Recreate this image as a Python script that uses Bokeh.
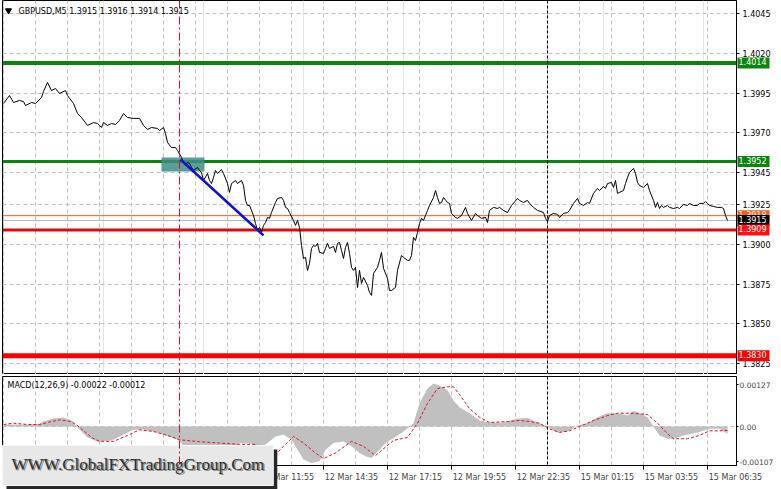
from bokeh.plotting import figure
from bokeh.layouts import column
from bokeh.models import FixedTicker, Span, Label, Grid, Range1d
from bokeh.embed import file_html
from bokeh.resources import INLINE

# ---------------- data ----------------
price_bar = [0, 3, 5, 8, 10, 11, 14, 16, 19, 20, 22, 24, 26, 28, 31, 32, 35, 37, 39, 42, 45, 47, 49, 50, 52, 54, 56, 58,
             60, 62, 65, 68, 70, 72, 74, 77, 78, 80, 81, 82, 84, 86, 87, 89, 90, 91, 92, 93, 94, 95, 97, 98, 99, 100,
             102, 103, 104, 105, 106, 107, 109, 110, 112, 113, 114, 116, 117, 119, 120, 121, 122, 123,
             125, 126, 127, 128, 129, 130, 131, 132, 133, 134, 136, 137, 139, 140, 141, 142, 143, 145, 146, 147, 148,
             149, 150, 151, 152, 153, 154, 155, 156, 157, 158, 160, 161, 162, 163, 165, 166, 167, 168, 169, 170, 171,
             172, 173, 174, 175, 176, 177, 178, 179, 180, 182, 183, 184, 185, 187, 188, 189, 190, 192, 193, 194, 196,
             197, 199, 200, 202, 203, 204, 205, 206, 207, 208, 209, 210, 212, 213, 215, 216, 217, 218,
             219, 220, 222, 223, 224, 226, 227, 229, 231, 232, 234, 236, 237, 239, 241, 242, 243, 245, 247, 248, 250,
             252, 254, 257, 258, 260, 262, 263, 265, 267, 270, 271, 272, 273, 275, 277, 278, 280, 282, 283, 285, 287,
             288, 290, 292, 293, 295, 297, 298, 300, 301, 302, 304, 305, 306, 307, 308, 310, 311, 312, 313, 315, 316,
             317, 318, 320, 322, 323, 325, 326, 327, 328, 329, 330, 332, 333, 335, 337, 338, 340, 342, 343, 345, 347,
             348, 350, 351, 352, 353, 355, 357, 359, 360, 361, 362]
price_close = [1.39885, 1.39935, 1.39891, 1.39904, 1.39897, 1.39872, 1.39891, 1.39885, 1.39922, 1.39960, 1.40017,
               1.39966, 1.39979, 1.39948, 1.39966, 1.39935, 1.39885, 1.39822, 1.39797, 1.39747, 1.39765, 1.39759,
               1.39734, 1.39765, 1.39747, 1.39759, 1.39753, 1.39778, 1.39822, 1.39797, 1.39791, 1.39791, 1.39747,
               1.39722, 1.39734, 1.39728, 1.39715, 1.39734, 1.39696, 1.39640, 1.39608, 1.39608, 1.39590, 1.39546,
               1.39514, 1.39495, 1.39514, 1.39508, 1.39483, 1.39464, 1.39483, 1.39464, 1.39451, 1.39401, 1.39445,
               1.39401, 1.39382, 1.39420, 1.39464, 1.39445, 1.39470, 1.39445, 1.39382, 1.39326, 1.39382, 1.39401,
               1.39382, 1.39401, 1.39370, 1.39276, 1.39244, 1.39244,
               1.39181, 1.39131, 1.39087, 1.39106, 1.39075, 1.39119, 1.39137, 1.39169, 1.39163, 1.39200, 1.39263,
               1.39288, 1.39294, 1.39276, 1.39232, 1.39225, 1.39200, 1.39150, 1.39119, 1.39150, 1.39106, 1.38993,
               1.38911, 1.38918, 1.38836, 1.38880, 1.38974, 1.38993, 1.38987, 1.39006, 1.38949, 1.38943, 1.38974,
               1.39006, 1.38974, 1.38987, 1.38949, 1.39006, 1.39012, 1.38962, 1.38911, 1.38981, 1.39012, 1.38943,
               1.38855, 1.38836, 1.38855, 1.38729, 1.38836, 1.38754, 1.38792, 1.38742, 1.38698, 1.38679, 1.38817,
               1.38855, 1.38899, 1.38949, 1.38849, 1.38786, 1.38710, 1.38710, 1.38729, 1.38836, 1.38930, 1.38918,
               1.38899, 1.38899, 1.38930, 1.39043, 1.39024, 1.39075, 1.39131, 1.39163, 1.39150, 1.39213, 1.39244,
               1.39294, 1.39338, 1.39294, 1.39257,
               1.39263, 1.39294, 1.39263, 1.39257, 1.39194, 1.39169, 1.39163, 1.39181, 1.39232, 1.39194, 1.39150,
               1.39194, 1.39181, 1.39163, 1.39169, 1.39137, 1.39213, 1.39232, 1.39225, 1.39232, 1.39213, 1.39200,
               1.39244, 1.39288, 1.39276, 1.39263, 1.39276, 1.39257, 1.39232, 1.39213, 1.39200, 1.39163, 1.39144,
               1.39181, 1.39194, 1.39188, 1.39169, 1.39194, 1.39200, 1.39213, 1.39257, 1.39288, 1.39257, 1.39244,
               1.39263, 1.39257, 1.39320, 1.39351, 1.39338, 1.39364, 1.39351, 1.39382, 1.39389, 1.39357, 1.39401,
               1.39320, 1.39326, 1.39338, 1.39382, 1.39420, 1.39451, 1.39477, 1.39445, 1.39389, 1.39370, 1.39357,
               1.39382, 1.39338, 1.39276, 1.39232, 1.39263, 1.39225, 1.39244, 1.39232, 1.39244, 1.39232, 1.39225,
               1.39232, 1.39225, 1.39250, 1.39244, 1.39257, 1.39244, 1.39244, 1.39257, 1.39257, 1.39269, 1.39257,
               1.39244, 1.39238, 1.39232, 1.39232, 1.39225, 1.39181, 1.39150]

macd_bar = [0, 5, 12, 18, 20, 25, 30, 34, 37, 42, 47, 54, 60, 65, 70, 77, 84, 88, 90, 94, 98, 106, 114, 118, 124,
            128, 132, 136, 140, 144, 147, 150, 154, 158, 161, 165, 170, 174, 178, 181, 184, 188, 191, 195, 199,
            202, 205, 208, 212, 215, 218, 222, 225, 228, 233, 238, 243, 250, 257, 262, 267, 272, 277, 282, 287,
            292, 297, 302, 307, 312, 315, 318, 322, 325, 328, 332, 335, 340, 347, 353, 358, 362]
macd_hist = [0.00005, 0.00006, 0.00005, 0.00008, 0.00016, 0.00024, 0.00027, 0.00018, -0.00003, -0.00033, -0.00045,
             -0.00042, -0.00024, -0.00010, -0.00009, -0.00018, -0.00033, -0.00042, -0.00060, -0.00080, -0.00090,
             -0.00090, -0.00072, -0.00050, -0.00052, -0.00068, -0.00050, -0.00030, -0.00024, -0.00040, -0.00070,
             -0.00100, -0.00110, -0.00105, -0.00070, -0.00050, -0.00045, -0.00060, -0.00080, -0.00090, -0.00095,
             -0.00070, -0.00050, -0.00035, -0.00020, -0.00005, 0.00010, 0.00070, 0.00115, 0.00130, 0.00124,
             0.00110, 0.00079, 0.00058, 0.00040, 0.00018, 0.00012, 0.00012, 0.00024, 0.00026, 0.00012, 0.00000,
             -0.00018, -0.00015, 0.00003, 0.00010, 0.00028, 0.00040, 0.00040, 0.00033, 0.00048, 0.00040, 0.00028,
             0.00000, -0.00027, -0.00037, -0.00037, -0.00027, -0.00018, -0.00007, -0.00007, -0.00022]

signal_bar = [0, 5, 12, 18, 24, 28, 34, 38, 44, 48, 55, 62, 68, 75, 82, 88, 98, 108, 118, 126, 132, 136, 140, 145,
              150, 156, 160, 166, 174, 180, 186, 195, 202, 207, 212, 217, 222, 225, 229, 233, 238, 243, 252, 258,
              263, 268, 273, 278, 283, 288, 295, 302, 307, 315, 322, 327, 332, 335, 342, 348, 353, 358, 362]
signal_val = [0.00006, 0.00010, 0.00006, 0.00006, 0.00015, 0.00020, 0.00015, -0.00002, -0.00033, -0.00045, -0.00045,
              -0.00027, -0.00010, -0.00015, -0.00027, -0.00040, -0.00046, -0.00050, -0.00054, -0.00054, -0.00070,
              -0.00085, -0.00060, -0.00030, -0.00050, -0.00080, -0.00097, -0.00080, -0.00045, -0.00060, -0.00088,
              -0.00042, -0.00033, 0.00010, 0.00070, 0.00115, 0.00120, 0.00120, 0.00088, 0.00054, 0.00028, 0.00012,
              0.00015, 0.00018, 0.00015, 0.00010, -0.00007, -0.00018, -0.00013, 0.00000, 0.00018, 0.00033, 0.00040,
              0.00040, 0.00036, 0.00010, -0.00022, -0.00037, -0.00037, -0.00027, -0.00013, -0.00013, -0.00012]

price_ticks = [1.4045, 1.4020, 1.3995, 1.3970, 1.3945, 1.3925, 1.3900, 1.3875, 1.3850, 1.3825]
macd_ticks = [0.00127, 0.0, -0.00107]
macd_tick_labels = ["0.00127", "0.00", "-0.00107"]
time_tick_bars = [0, 32, 64, 96, 128, 160, 192, 224, 256, 288, 320, 352]
time_tick_labels = ["12 Mar 01:15", "12 Mar 03:55", "12 Mar 06:35", "12 Mar 09:15", "12 Mar 11:55", "12 Mar 14:35",
                    "12 Mar 17:15", "12 Mar 19:55", "12 Mar 22:35", "15 Mar 01:15", "15 Mar 03:55", "15 Mar 06:35"]
grid_bars = list(range(0, 369, 16))

level_prices = [1.4014, 1.3952, 1.3918, 1.3915, 1.3909, 1.3830]
level_labels = ["1.4014", "1.3952", "1.3918", "1.3915", "1.3909", "1.3830"]
zone_bars = [79, 100.5]
zone_prices = [1.39458, 1.39546]
trend_bars = [88.5, 130]
trend_prices = [1.39533, 1.39056]
marker_bars = [88, 272]

symbol_header = "GBPUSD,M5  1.3915 1.3916 1.3914 1.3915"
macd_header = "MACD(12,26,9) -0.00022 -0.00012"
watermark_text = "WWW.GlobalFXTradingGroup.Com"

# ---------------- styles ----------------
level_styles = [
    dict(line="#0b850b", width=4, box="#0b850b", text="white"),
    dict(line="#0b850b", width=3, box="#0b850b", text="white"),
    dict(line="#ff5a14", width=1, box="#ff5a14", text="white"),
    dict(line="#b4b4c8", width=1, box="#000000", text="white"),
    dict(line="#e00a0a", width=3, box="#ff1010", text="white"),
    dict(line="#ff0000", width=5, box="#ff0000", text="white"),
]
GRID = "#c0c0c0"
FONT = "DejaVu Sans"
RED_MARK = "#cc1133"

xr = Range1d(-0.5, 366.5)

# ---------------- main price panel ----------------
p = figure(frame_width=734, frame_height=374, x_range=xr, y_range=(1.38182, 1.40532),
           x_axis_location=None, y_axis_location="right",
           output_backend="svg", toolbar_location=None,
           min_border_left=2, min_border_right=37, min_border_top=0, min_border_bottom=0,
           background_fill_color="white", border_fill_color="white",
           outline_line_color="black", outline_line_width=1)

p.yaxis.ticker = FixedTicker(ticks=price_ticks)
p.yaxis.major_label_overrides = {t: f"{t:.4f}" for t in price_ticks}
p.yaxis.major_label_text_font = FONT
p.yaxis.major_label_text_font_size = "8px"
p.yaxis.major_label_text_color = "black"
p.yaxis.major_tick_out = 3
p.yaxis.major_tick_in = 0
p.yaxis.minor_tick_out = 0
p.yaxis.major_label_standoff = 3
p.yaxis.axis_line_color = "black"
p.ygrid.ticker = FixedTicker(ticks=price_ticks)
p.ygrid.grid_line_color = GRID
p.ygrid.grid_line_dash = "4 3"
p.add_layout(Grid(dimension=0, ticker=FixedTicker(ticks=grid_bars), grid_line_color=GRID, grid_line_dash="4 3"))

for lv, st in zip(level_prices, level_styles):
    p.add_layout(Span(location=lv, dimension="width", line_color=st["line"], line_width=st["width"],
                      level="underlay"))

p.quad(left=[zone_bars[0]], right=[zone_bars[1]], bottom=[zone_prices[0]], top=[zone_prices[1]],
       fill_color="#3f8c86", fill_alpha=0.85, line_color=None)
p.line(price_bar, price_close, line_color="black", line_width=1)
p.line(trend_bars, trend_prices, line_color="#1010d0", line_width=2.5)

p.add_layout(Span(location=marker_bars[0], dimension="height", line_color=RED_MARK, line_width=1,
                  line_dash="8 3 2 3"))
p.add_layout(Span(location=marker_bars[1], dimension="height", line_color="black", line_width=1,
                  line_dash="3 2"))

p.scatter([2.5], [1.40469], marker="inverted_triangle", size=6, fill_color="black", line_color="black")
p.add_layout(Label(x=7.5, y=1.40463, text=symbol_header, text_font=FONT, text_font_size="8px",
                   text_color="black", text_baseline="middle", text_align="left"))

# level price tags on the price scale (side panel, so they are not clipped to the frame)
for lv, lab, st in zip(level_prices, level_labels, level_styles):
    p.add_layout(Label(x=367.0, y=lv, text=lab, text_font=FONT, text_font_size="8px",
                       text_color=st["text"], text_baseline="middle", text_align="left",
                       background_fill_color=st["box"], padding=(1, 3, 1, 3)), "right")

# ---------------- MACD panel ----------------
m = figure(frame_width=734, frame_height=89, x_range=xr, y_range=(-0.001179, 0.001512),
           x_axis_location="below", y_axis_location="right",
           output_backend="svg", toolbar_location=None,
           min_border_left=2, min_border_right=37, min_border_top=2, min_border_bottom=0,
           background_fill_color="white", border_fill_color="white",
           outline_line_color="black", outline_line_width=1)

m.yaxis.ticker = FixedTicker(ticks=macd_ticks)
m.yaxis.major_label_overrides = dict(zip(macd_ticks, macd_tick_labels))
m.yaxis.major_label_text_font = FONT
m.yaxis.major_label_text_font_size = "7.5px"
m.yaxis.major_tick_out = 2
m.yaxis.major_tick_in = 0
m.yaxis.minor_tick_out = 0
m.yaxis.major_label_standoff = 1
m.ygrid.visible = False

label_centers = [b + 14 for b in time_tick_bars]
m.xaxis.ticker = FixedTicker(ticks=label_centers, minor_ticks=time_tick_bars)
m.xaxis.major_label_overrides = dict(zip(label_centers, time_tick_labels))
m.xaxis.major_label_text_font = FONT
m.xaxis.major_label_text_font_size = "8px"
m.xaxis.major_tick_out = 0
m.xaxis.major_tick_in = 0
m.xaxis.minor_tick_out = 4
m.xaxis.minor_tick_in = 0
m.xaxis.major_label_standoff = 3
m.xgrid.visible = False
m.add_layout(Grid(dimension=0, ticker=FixedTicker(ticks=grid_bars), grid_line_color=GRID, grid_line_dash="4 3"))
m.add_layout(Span(location=0, dimension="width", line_color=GRID, line_width=1, line_dash="4 3", level="underlay"))

m.varea(x=macd_bar, y1=[0] * len(macd_bar), y2=macd_hist, fill_color="#c0c0c0")
m.line(signal_bar, signal_val, line_color="#e0102a", line_width=1, line_dash="3 2")

m.add_layout(Span(location=marker_bars[0], dimension="height", line_color=RED_MARK, line_width=1,
                  line_dash="8 3 2 3"))
m.add_layout(Span(location=marker_bars[1], dimension="height", line_color="black", line_width=1,
                  line_dash="3 2"))

m.add_layout(Label(x=2.0, y=0.00124, text=macd_header, text_font=FONT, text_font_size="8px",
                   text_color="black", text_baseline="middle", text_align="left"))

# watermark (placed in the lower side panel so it can cover the time axis like the original)
wm_common = dict(x=-0.5, y=-0.000575, text=watermark_text, text_font="Liberation Serif",
                 text_font_size="17px", text_baseline="top", text_align="left")
m.add_layout(Label(x_offset=4, y_offset=-4, text_color="#262626", background_fill_color="#262626",
                   padding=(9, 9, 12, 9), **wm_common), "below")
m.add_layout(Label(text_color="#e8e8e8", background_fill_color="#e8e8e8", border_line_color="#f8f8f8",
                   padding=(9, 9, 12, 9), **wm_common), "below")
m.add_layout(Label(x_offset=10.5, y_offset=-10.5, text_color="#8c8c8c", **wm_common), "below")
m.add_layout(Label(x_offset=9, y_offset=-9, text_color="#2e2e2e", **wm_common), "below")

layout = column(p, m)
open("out.html", "w").write(file_html(layout, INLINE))
